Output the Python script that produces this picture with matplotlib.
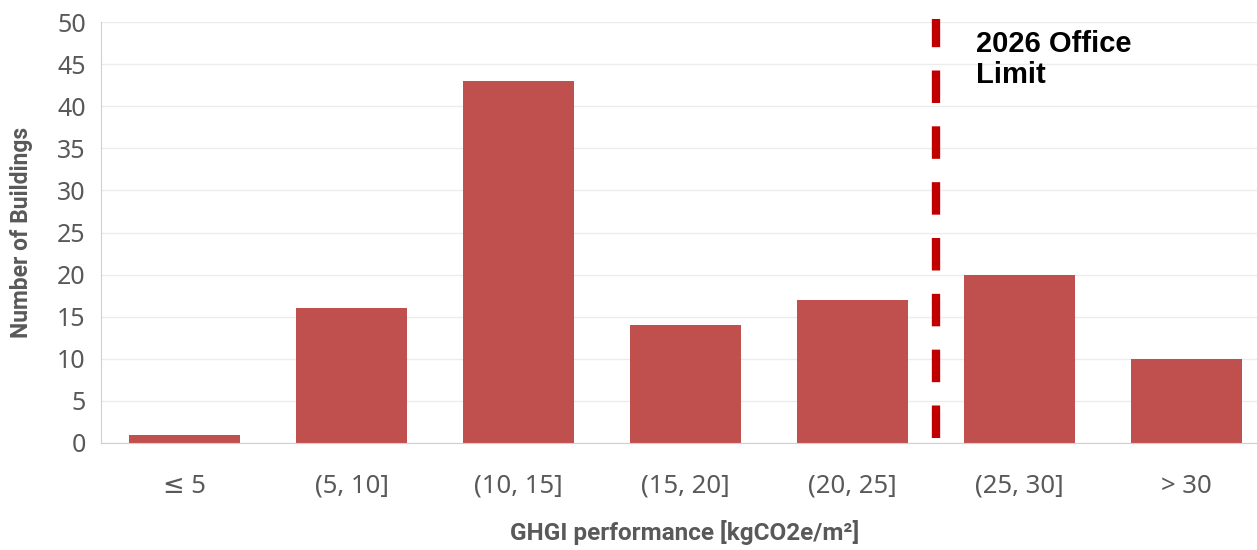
import matplotlib.pyplot as plt

# Datos del gráfico
categorias = ['≤ 5', '(5, 10]', '(10, 15]', '(15, 20]', '(20, 25]', '(25, 30]', '> 30']
edificios = [1, 16, 43, 14, 17, 20, 10]
limite_pos = 4.5
limite_texto = '2026 Office\nLimit'

gris = '#595959'
plt.rcParams['font.family'] = ['Noto Sans', 'DejaVu Sans']

fig = plt.figure(figsize=(12.57, 5.5), dpi=100)
ax = fig.add_axes([101 / 1257, 1 - 443 / 550, 1169 / 1257, 421 / 550])

x = range(len(categorias))
ax.bar(x, edificios, width=0.67, color='#C0504D', zorder=2)

# Línea límite discontinua
ax.plot([limite_pos, limite_pos], [0.6, 50.3], color='#C00000', linewidth=6,
        linestyle=(0, (3.9, 2.8)), zorder=3, clip_on=False)
ax.text(4.74, 49, limite_texto, fontsize=21, fontweight='bold',
        family=['Liberation Sans', 'DejaVu Sans'], va='top', ha='left', color='black',
        linespacing=1.1)

ax.set_xlim(-0.5, 6.5)
ax.set_ylim(0, 50)
ax.set_yticks(range(0, 51, 5))
ax.set_xticks(list(x))
ax.set_xticklabels(categorias)
ax.tick_params(axis='x', length=0, pad=22, labelsize=18.5, labelcolor=gris)
ax.tick_params(axis='y', length=0, pad=11, labelsize=18, labelcolor=gris)

ax.grid(axis='y', color='#ececec', linewidth=1, zorder=0)
for lado in ['top', 'right']:
    ax.spines[lado].set_visible(False)
ax.spines['left'].set_color('#d0d0d0')
ax.spines['bottom'].set_color('#d0d0d0')

ax.set_ylabel('Number of Buildings', fontsize=16.5, fontweight='bold', color=gris,
              family=['Liberation Sans Narrow', 'Roboto', 'DejaVu Sans'])
ax.yaxis.set_label_coords(-(101 - 33) / 1169, 0.5)
ax.set_xlabel('GHGI performance [kgCO2e/m²]', fontsize=17.5, fontweight='bold', color=gris,
              family=['Liberation Sans Narrow', 'Roboto', 'DejaVu Sans'])
ax.xaxis.set_label_coords((685 - 101) / 1169, -(520 - 443) / 421)

fig.savefig('out.png', dpi=100)
